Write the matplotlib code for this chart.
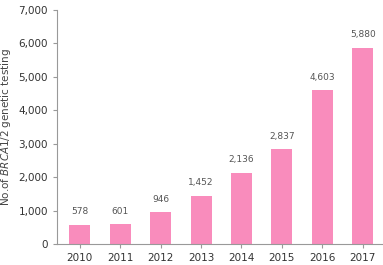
import matplotlib
matplotlib.use("Agg")
import matplotlib.pyplot as plt

years = ["2010", "2011", "2012", "2013", "2014", "2015", "2016", "2017"]
counts = [578, 601, 946, 1452, 2136, 2837, 4603, 5880]
yticks = [0, 1000, 2000, 3000, 4000, 5000, 6000, 7000]

fig = plt.figure(figsize=(3.83, 2.65), dpi=100)
ax = fig.add_axes([0.149, 0.079, 0.851, 0.883])

x = list(range(len(years)))
ax.bar(x, counts, width=0.52, color="#F98CBC", zorder=2)
for xi, v in zip(x, counts):
    ax.text(xi, v + 250, f"{v:,}", ha="center", va="bottom", fontsize=6.5, color="#555555")

ax.set_xlim(-0.56, 7.5)
ax.set_ylim(0, 7000)
ax.set_xticks(x)
ax.set_xticklabels(years)
ax.set_yticks(yticks)
ax.set_yticklabels([f"{t:,}" for t in yticks])
for s in ["top", "right"]:
    ax.spines[s].set_visible(False)
for s in ["left", "bottom"]:
    ax.spines[s].set_color("#999999")
    ax.spines[s].set_linewidth(0.8)
ax.tick_params(axis="both", colors="#999999", length=3, width=0.8, labelsize=7.5, labelcolor="#333333")
ax.set_ylabel("No.of $\\it{BRCA1/2}$ genetic testing", fontsize=7.5, color="#444444", labelpad=4)

fig.savefig("out.png", dpi=100)
